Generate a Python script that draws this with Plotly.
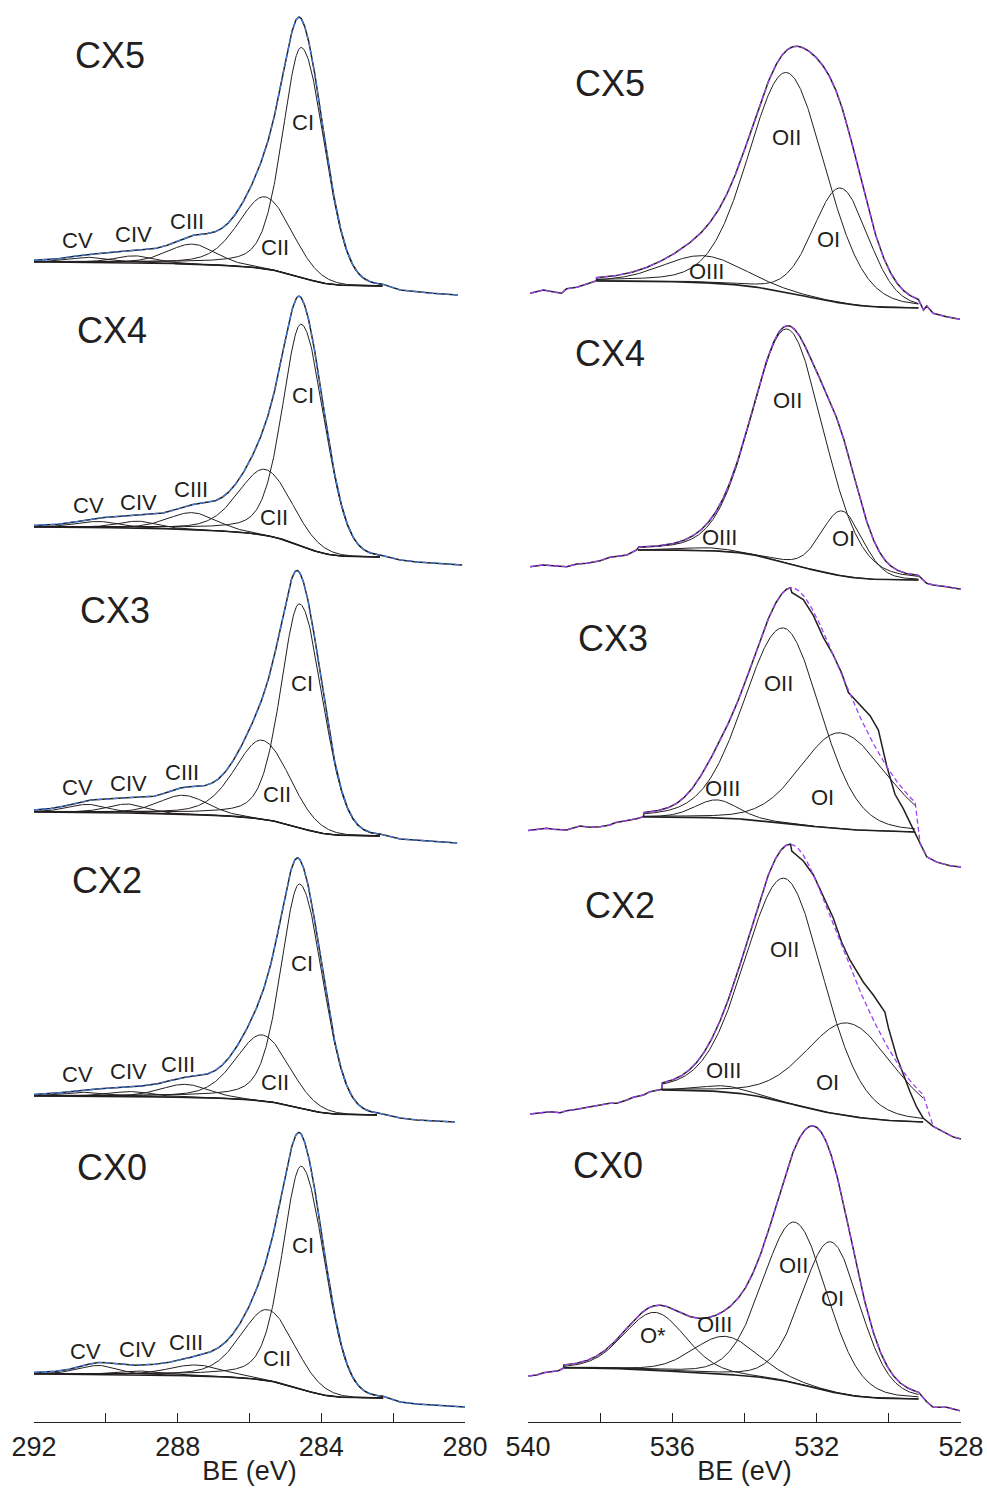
import numpy as np
import plotly.graph_objects as go

# ---------------- data ----------------
# y values are in the stacked-intensity units of the plot (0 at axis line)
SAMPLES = ["CX5", "CX4", "CX3", "CX2", "CX0"]

# ---- C 1s ----
C_names = ["CI", "CII", "CIII", "CIV", "CV"]
C_fit_left = [292.0, 292.0, 292.0, 292.0, 292.0]
C_fit_right = [282.30, 282.37, 282.37, 282.45, 282.28]
C_bg_left = [1160, 895, 610, 326, 48]
C_bg_right = [1136, 865, 586, 307, 24]
C_centers = [[284.55, 285.57, 287.60, 289.20, 290.40],
             [284.55, 285.57, 287.60, 289.10, 290.20],
             [284.60, 285.65, 287.85, 289.40, 290.50],
             [284.60, 285.65, 287.80, 289.30, 290.50],
             [284.55, 285.50, 287.50, 289.00, 290.20]]
C_heights = [[230, 72, 20, 7, 5],
             [222, 66, 17, 7, 6],
             [224, 79, 19, 9, 8],
             [224, 66, 13, 5, 4],
             [223, 71, 11, 4, 9]]
C_fwhm_high = [[1.25, 1.75, 1.6, 1.3, 1.4],
               [1.25, 1.75, 1.6, 1.3, 1.4],
               [1.25, 1.80, 1.6, 1.3, 1.3],
               [1.25, 1.75, 1.6, 1.4, 1.4],
               [1.25, 1.75, 1.8, 1.4, 1.3]]
C_fwhm_low = [[1.5, 1.75, 1.6, 1.3, 1.4],
              [1.5, 1.75, 1.6, 1.3, 1.4],
              [1.5, 1.80, 1.6, 1.3, 1.3],
              [1.5, 1.75, 1.6, 1.4, 1.4],
              [1.5, 1.75, 1.8, 1.4, 1.3]]
C_tail_right_E = [[281.8, 280.9, 280.2],
                  [281.8, 281.34, 280.08],
                  [281.8, 281.34, 280.22],
                  [281.8, 281.34, 280.28],
                  [281.8, 281.34, 280.0]]
C_tail_right_y = [[1132, 1128.7, 1127],
                  [862, 860, 857],
                  [583, 582, 579],
                  [304, 302, 300],
                  [20, 18, 15]]

# ---- O 1s ----
O_names = [["OII", "OI", "OIII"],
           ["OII", "OI", "OIII"],
           ["OII", "OI", "OIII"],
           ["OII", "OI", "OIII"],
           ["OII", "OI", "OIII", "O*"]]
O_fit_left = [538.10, 536.95, 536.80, 536.29, 539.02]
O_fit_right = [529.18, 529.18, 529.27, 529.05, 529.18]
O_bg_left = [1141, 872, 605, 332, 54]
O_bg_right = [1114, 842, 590, 300, 23]
O_centers = [[532.82, 531.33, 535.15],
             [532.80, 531.30, 535.00],
             [532.92, 531.35, 534.77],
             [532.88, 531.12, 534.54],
             [532.60, 531.60, 534.54, 536.48]]
O_heights = [[220, 115, 27],
             [234, 65, 3],
             [195, 96, 18],
             [224, 93, 6],
             [161, 150, 38, 58]]
O_fwhm_high = [[2.5, 1.8, 2.6],
               [2.35, 1.35, 1.5],
               [2.6, 2.6, 1.4],
               [2.6, 2.8, 1.5],
               [2.1, 1.9, 2.1, 2.0]]
O_fwhm_low = [[2.5, 1.8, 2.6],
              [2.35, 1.35, 1.5],
              [2.4, 3.0, 1.4],
              [2.5, 2.9, 1.5],
              [2.1, 1.9, 2.1, 2.0]]
# measured trace outside the fitted window
O_tail_left_E = [
    [539.94, 539.76, 539.57, 539.39, 539.07, 538.93, 538.65, 538.37, 538.10],
    [539.94, 539.58, 539.30, 538.93, 538.65, 538.37, 538.00, 537.73, 537.45, 537.26, 536.99],
    [540.0, 539.85, 539.48, 539.30, 538.93, 538.56, 538.28, 538.00, 537.73, 537.59, 537.26, 536.99, 536.80],
    [539.94, 539.67, 539.39, 539.11, 538.93, 538.65, 538.47, 538.19, 538.00, 537.73, 537.54, 537.26, 537.08, 536.80, 536.62, 536.29],
    [539.99, 539.76, 539.57, 539.39, 539.16, 539.02]]
O_tail_left_y = [
    [1128.7, 1130, 1132, 1130.7, 1128.7, 1133.3, 1134.7, 1138, 1141.3],
    [855.3, 857, 856.3, 855.3, 858, 858.7, 861.3, 864.7, 866, 867, 872],
    [591.5, 592, 593.7, 592.7, 592, 596, 594.7, 595.3, 597, 599.3, 601.3, 603.3, 605.3],
    [308, 309.3, 310.3, 309.3, 311.3, 312.7, 313.7, 315.3, 317, 318.7, 318.7, 322, 324.7, 327, 330.3, 332.7],
    [46, 47, 49.3, 50, 51.3, 53.7]]
O_tail_right_E = [
    [529.04, 528.95, 528.77, 528.40, 528.03],
    [528.95, 528.77, 528.40, 528.0],
    [529.13, 528.95, 528.67, 528.30, 528.0],
    [528.77, 528.49, 528.21, 528.0],
    [528.95, 528.77, 528.40, 528.03]]
O_tail_right_y = [
    [1112, 1116, 1108.7, 1105.3, 1102.7],
    [838.7, 837, 835.3, 832.7],
    [577.7, 565.2, 559.9, 556.3, 555],
    [295.6, 290.2, 284.9, 283],
    [20.3, 14.7, 14.7, 11.3]]
# measured trace on the low-BE flank where it departs from the fit
O_meas_split = [None, None, 532.72, 532.72, None]
O_meas_E = [[], [],
            [532.69, 532.37, 532.09, 531.82, 531.54, 531.31, 531.12, 530.89, 530.52, 530.29,
             530.24, 530.06, 529.83, 529.60, 529.41, 529.27],
            [532.69, 532.37, 532.09, 531.82, 531.54, 531.31, 531.08, 530.71, 530.43, 530.11,
             530.01, 529.78, 529.60, 529.41, 529.23, 529.05],
            []]
O_meas_y = [[], [],
            [829.5, 822.4, 806.3, 784.9, 767, 749.1, 729.5, 720.6, 706.3, 692,
             684.9, 656.3, 627.7, 613.4, 599.1, 588.4],
            [571, 561, 547, 525, 504, 480, 462, 440, 427, 410,
             394, 365, 347, 330, 315, 304],
            []]

C_tick_vals = [292, 288, 284, 280]
O_tick_vals = [540, 536, 532, 528]

# ---------------- model helpers ----------------
C_LMIX_HIGH, C_LMIX_LOW = 0.35, 0.05
O_LMIX = 0.15


def pvoigt(E, c, h, w_hi, w_lo, m_hi, m_lo):
    w = np.where(E >= c, w_hi, w_lo)
    m = np.where(E >= c, m_hi, m_lo)
    x = (E - c) / w
    return h * ((1 - m) * np.exp(-4 * np.log(2) * x * x) + m / (1 + 4 * x * x))


def build(e_left, e_right, y_left, y_right, centers, heights, w_hi, w_lo, m_hi, m_lo):
    E = np.linspace(e_right, e_left, 600)
    peaks = [pvoigt(E, c, h, a, b, m_hi, m_lo) for c, h, a, b in zip(centers, heights, w_hi, w_lo)]
    S = np.sum(peaks, axis=0)
    cum = np.concatenate([[0], np.cumsum(0.5 * (S[1:] + S[:-1]) * np.diff(E))])
    bg = y_right + (y_left - y_right) * cum / cum[-1]
    env = bg + S
    return E, bg, peaks, env


TXT = "#231f20"
FONT = "Liberation Sans, Arial, sans-serif"
fig = go.Figure()


def add_line(x, y, xa, ya, color=TXT, width=1.0, dash=None):
    fig.add_trace(go.Scatter(x=x, y=y, mode="lines", xaxis=xa, yaxis=ya,
                             line=dict(color=color, width=width, dash=dash),
                             hoverinfo="skip", showlegend=False))


# C 1s column
for i in range(len(SAMPLES)):
    E, bg, peaks, env = build(C_fit_left[i], C_fit_right[i], C_bg_left[i], C_bg_right[i],
                              C_centers[i], C_heights[i], C_fwhm_high[i], C_fwhm_low[i],
                              C_LMIX_HIGH, C_LMIX_LOW)
    for p in peaks:
        add_line(E, bg + p, "x", "y", width=1.0)
    add_line(E, bg, "x", "y", width=1.6)
    tx = list(E[::-1]) + C_tail_right_E[i]
    ty = list(env[::-1]) + C_tail_right_y[i]
    add_line(tx, ty, "x", "y", width=1.5)
    add_line(tx, ty, "x", "y", color="#3f7be0", width=1.3, dash="5px,3px")

# O 1s column
for i in range(len(SAMPLES)):
    E, bg, peaks, env = build(O_fit_left[i], O_fit_right[i], O_bg_left[i], O_bg_right[i],
                              O_centers[i], O_heights[i], O_fwhm_high[i], O_fwhm_low[i],
                              O_LMIX, O_LMIX)
    for p in peaks:
        add_line(E, bg + p, "x2", "y2", width=1.0)
    add_line(E, bg, "x2", "y2", width=1.6)
    fx = O_tail_left_E[i] + list(E[::-1]) + O_tail_right_E[i]
    fy = O_tail_left_y[i] + list(env[::-1]) + O_tail_right_y[i]
    if O_meas_split[i] is None:
        mx, my = fx, fy
    else:
        keep = E[::-1] >= O_meas_split[i]
        mx = O_tail_left_E[i] + list(E[::-1][keep]) + O_meas_E[i] + O_tail_right_E[i]
        my = O_tail_left_y[i] + list(env[::-1][keep]) + O_meas_y[i] + O_tail_right_y[i]
    add_line(mx, my, "x2", "y2", width=1.5)
    add_line(fx, fy, "x2", "y2", color="#a142f4", width=1.3, dash="5px,3px")

# ---------------- labels ----------------
C_sample_lab = [(289.88, 1367), (289.83, 1092), (289.74, 812), (289.97, 542), (289.83, 255)]
O_sample_lab = [(537.73, 1339), (537.73, 1069), (537.64, 784), (537.45, 517), (537.78, 257)]
C_comp_lab = [
    [(284.51, 1300), (285.29, 1175), (287.74, 1201), (289.24, 1188), (290.78, 1182)],
    [(284.51, 1027), (285.32, 905), (287.63, 933), (289.08, 920), (290.47, 917)],
    [(284.54, 739), (285.23, 628), (287.88, 650), (289.38, 639), (290.80, 635)],
    [(284.54, 459), (285.29, 340), (287.99, 358), (289.38, 351), (290.78, 348)],
    [(284.51, 177), (285.23, 64), (287.77, 80), (289.13, 73), (290.58, 71)]]
O_comp_lab = [
    [(532.85, 1285), (531.66, 1183), (535.04, 1151)],
    [(532.82, 1022), (531.27, 884), (534.68, 885)],
    [(533.07, 739), (531.85, 625), (534.60, 634)],
    [(532.90, 473), (531.69, 340), (534.57, 352)],
    [(532.63, 157), (531.57, 124), (534.82, 98), (536.54, 87)]]

ann = []
for i, s in enumerate(SAMPLES):
    for (x, y), xr, yr in [(C_sample_lab[i], "x", "y"), (O_sample_lab[i], "x2", "y2")]:
        ann.append(dict(x=x, y=y, xref=xr, yref=yr, text=s, showarrow=False,
                        font=dict(family=FONT, size=36, color=TXT)))
    for n, (x, y) in zip(C_names, C_comp_lab[i]):
        ann.append(dict(x=x, y=y, xref="x", yref="y", text=n, showarrow=False,
                        font=dict(family=FONT, size=22, color=TXT)))
    for n, (x, y) in zip(O_names[i], O_comp_lab[i]):
        ann.append(dict(x=x, y=y, xref="x2", yref="y2", text=n, showarrow=False,
                        font=dict(family=FONT, size=22, color=TXT)))

W, H = 987, 1492
axis_common = dict(showline=True, linecolor=TXT, linewidth=1.3, ticks="inside", ticklen=9,
                   tickwidth=1.2, tickcolor=TXT, showgrid=False, zeroline=False, automargin=False,
                   tickfont=dict(family=FONT, size=27, color=TXT),
                   minor=dict(dtick=2, ticks="inside", ticklen=9, tickwidth=1.2, tickcolor=TXT,
                              showgrid=False),
                   title=dict(text="BE (eV)", font=dict(family=FONT, size=27, color=TXT), standoff=0))
fig.update_layout(
    width=W, height=H, paper_bgcolor="white", plot_bgcolor="white",
    margin=dict(l=0, r=0, t=0, b=70, autoexpand=False),
    xaxis=dict(domain=[34 / W, 465 / W], range=[292, 280], tickvals=C_tick_vals, anchor="y",
               **axis_common),
    xaxis2=dict(domain=[528 / W, 961 / W], range=[540, 528], tickvals=O_tick_vals, anchor="y2",
                **axis_common),
    yaxis=dict(domain=[0, 1], range=[0, 1422], visible=False, anchor="x"),
    yaxis2=dict(domain=[0, 1], range=[0, 1422], visible=False, anchor="x2"),
    annotations=ann,
)
fig.write_html("out.html", config={"displayModeBar": False},
               post_script="document.body.style.margin='0';document.body.style.overflow='hidden';")
